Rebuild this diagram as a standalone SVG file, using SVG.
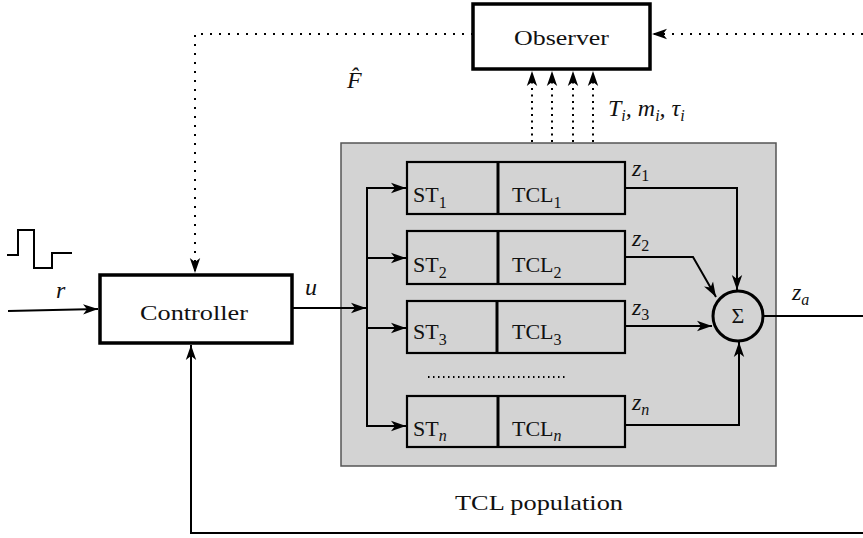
<svg xmlns="http://www.w3.org/2000/svg" width="863" height="538" viewBox="0 0 863 538">
<style>
text{font-family:"Liberation Serif","Times New Roman",serif;font-size:22px;fill:#111}
.it{font-style:italic;font-size:24px}
.rm{font-style:normal}
.sub{font-size:16px}
.blk{fill:#fff;stroke:#000;stroke-width:3.5}
.row{fill:#d3d3d3;stroke:#000;stroke-width:2.2}
.div{stroke:#000;stroke-width:3}
.ln{fill:none;stroke:#000;stroke-width:2}
.dot{fill:none;stroke:#000;stroke-width:2;stroke-dasharray:2 7}
.vdot{fill:none;stroke:#000;stroke-width:2;stroke-dasharray:2 4.5}
</style>
<defs>
<marker id="ah" markerUnits="userSpaceOnUse" markerWidth="16" markerHeight="12" viewBox="0 0 16 12" refX="15" refY="6" orient="auto">
<path d="M0,0.8 L15,6 L0,11.2 L4,6 Z" fill="#000"/>
</marker>
</defs>
<g id="population">
<rect x="341" y="143" width="435" height="323" fill="#d3d3d3" stroke="#555" stroke-width="1.5"/>
<text x="455" y="510" textLength="168" lengthAdjust="spacingAndGlyphs">TCL population</text>
</g>
<g id="observer">
<rect class="blk" x="473" y="4" width="177" height="65"/>
<text x="561.5" y="45" text-anchor="middle" textLength="95" lengthAdjust="spacingAndGlyphs">Observer</text>
</g>
<g id="controller">
<rect class="blk" x="100" y="275" width="192" height="68"/>
<text x="194" y="320" text-anchor="middle" textLength="108" lengthAdjust="spacingAndGlyphs">Controller</text>
</g>
<g id="row1">
<rect class="row" x="407" y="162" width="218" height="52"/>
<line class="div" x1="498" y1="162" x2="498" y2="214"/>
<text x="413" y="202">ST<tspan class="sub" dy="6">1</tspan></text>
<text x="512" y="202">TCL<tspan class="sub" dy="6">1</tspan></text>
</g>
<g id="row2">
<rect class="row" x="407" y="231" width="218" height="53"/>
<line class="div" x1="498" y1="231" x2="498" y2="284"/>
<text x="413" y="272">ST<tspan class="sub" dy="6">2</tspan></text>
<text x="512" y="272">TCL<tspan class="sub" dy="6">2</tspan></text>
</g>
<g id="row3">
<rect class="row" x="407" y="301" width="218" height="52"/>
<line class="div" x1="497" y1="301" x2="497" y2="353"/>
<text x="413" y="339">ST<tspan class="sub" dy="6">3</tspan></text>
<text x="512" y="339">TCL<tspan class="sub" dy="6">3</tspan></text>
</g>
<g id="rown">
<rect class="row" x="407" y="396" width="218" height="51"/>
<line class="div" x1="498" y1="396" x2="498" y2="447"/>
<text x="413" y="436">ST<tspan class="sub" font-style="italic" dy="5">n</tspan></text>
<text x="512" y="436">TCL<tspan class="sub" font-style="italic" dy="5">n</tspan></text>
</g>
<g id="sum">
<circle cx="738" cy="316" r="25" fill="none" stroke="#000" stroke-width="3"/>
<text x="738" y="323" text-anchor="middle" font-size="21">Σ</text>
</g>
<g id="pulse">
<path class="ln" d="M7,255 H18 V230 H34 V268 H52 V253 H72" stroke-width="1.8"/>
</g>
<g id="labels">
<text class="it" x="56" y="298">r</text>
<text class="it" x="305" y="295">u</text>
<text class="it" x="347" y="88">F&#770;</text>
<text class="it" x="608" y="116">T<tspan class="sub" dy="5">i</tspan><tspan dy="-5">, m</tspan><tspan class="sub" dy="5">i</tspan><tspan dy="-5">, τ</tspan><tspan class="sub" dy="5">i</tspan></text>
<text class="it" x="632" y="176">z<tspan class="sub rm" dy="5">1</tspan></text>
<text class="it" x="632" y="246">z<tspan class="sub rm" dy="5">2</tspan></text>
<text class="it" x="632" y="315">z<tspan class="sub rm" dy="5">3</tspan></text>
<text class="it" x="632" y="410">z<tspan class="sub" dy="5">n</tspan></text>
<text class="it" x="792" y="300">z<tspan class="sub" dy="5">a</tspan></text>
</g>
<g id="connectors">
<line class="ln" x1="8" y1="311" x2="98" y2="309" marker-end="url(#ah)"/>
<line class="ln" x1="292" y1="308" x2="366" y2="308" marker-end="url(#ah)"/>
<line class="ln" x1="367" y1="187" x2="367" y2="427"/>
<line class="ln" x1="366" y1="188" x2="406" y2="188" marker-end="url(#ah)"/>
<line class="ln" x1="366" y1="258" x2="406" y2="258" marker-end="url(#ah)"/>
<line class="ln" x1="366" y1="328" x2="406" y2="328" marker-end="url(#ah)"/>
<line class="ln" x1="366" y1="426" x2="406" y2="426" marker-end="url(#ah)"/>
<path class="ln" d="M625,188 H737 V290" marker-end="url(#ah)"/>
<path class="ln" d="M625,257 H693 L716,297" marker-end="url(#ah)"/>
<path class="ln" d="M625,326 H712" marker-end="url(#ah)"/>
<path class="ln" d="M625,425 H739 V342" marker-end="url(#ah)"/>
<path class="ln" d="M763,316 H863"/>
<path class="ln" d="M863,533 H191 V345" marker-end="url(#ah)"/>
<path class="dot" d="M473,34 H195 V273" marker-end="url(#ah)"/>
<path class="dot" d="M863,34 H652" marker-end="url(#ah)"/>
<path class="vdot" d="M532,142 V71" marker-end="url(#ah)"/>
<path class="vdot" d="M552,142 V71" marker-end="url(#ah)"/>
<path class="vdot" d="M573,142 V71" marker-end="url(#ah)"/>
<path class="vdot" d="M593,142 V71" marker-end="url(#ah)"/>
<line x1="428" y1="377" x2="568" y2="377" stroke="#000" stroke-width="2" stroke-dasharray="1.5 3.5"/>
</g>
</svg>
